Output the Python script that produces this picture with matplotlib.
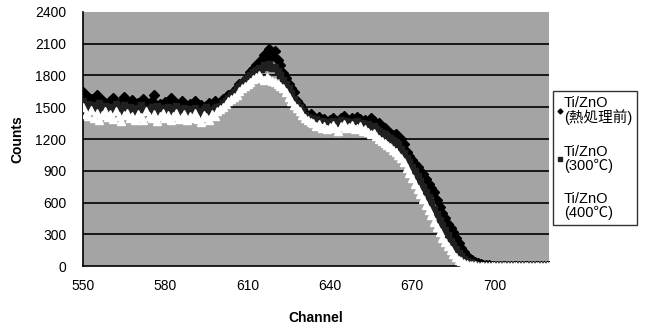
import numpy as np
import matplotlib
matplotlib.use("Agg")
import matplotlib.pyplot as plt

plt.rcParams['font.family'] = ['Liberation Sans', 'Noto Sans CJK JP', 'DejaVu Sans']

channels = list(range(550, 721))

before = [
    1640, 1560, 1600, 1580, 1530, 1620, 1510, 1570, 1540, 1500,
    1560, 1590, 1520, 1480, 1550, 1600, 1530, 1490, 1570, 1510,
    1540, 1500, 1580, 1520, 1470, 1560, 1620, 1500, 1530, 1480,
    1550, 1510, 1590, 1470, 1540, 1500, 1560, 1520, 1480, 1530,
    1500, 1560, 1490, 1520, 1470, 1510, 1540, 1480, 1560, 1520,
    1540, 1580, 1560, 1620, 1600, 1650, 1680, 1720, 1700, 1760,
    1790, 1830, 1860, 1900, 1880, 1950, 1990, 1960, 2050, 1990,
    2030, 1950, 1900, 1820, 1780, 1720, 1680, 1640, 1560, 1520,
    1480, 1450, 1420, 1440, 1400, 1380, 1410, 1360, 1390, 1350,
    1380, 1400, 1350, 1370, 1400, 1420, 1380, 1360, 1400, 1380,
    1410, 1390, 1360, 1380, 1350, 1400, 1370, 1330, 1350, 1310,
    1300, 1280, 1260, 1240, 1250, 1220, 1200, 1150, 1080, 1040,
    1000, 960, 940, 900, 870, 820, 780, 740, 700, 620,
    560, 500, 450, 400, 360, 320, 270, 220, 170, 130,
    95, 70, 55, 40, 30, 22, 15, 10, 7, 5,
    4, 3, 2, 2, 1, 1, 1, 0, 0, 0,
    0, 0, 0, 0, 0, 0, 0, 0, 0, 0, 0,
]

c300 = [
    1560, 1500, 1530, 1470, 1520, 1490, 1540, 1460, 1510, 1480,
    1500, 1470, 1530, 1450, 1490, 1520, 1460, 1500, 1480, 1440,
    1490, 1520, 1460, 1480, 1440, 1500, 1470, 1510, 1450, 1490,
    1460, 1500, 1440, 1480, 1510, 1450, 1470, 1490, 1440, 1480,
    1450, 1490, 1460, 1430, 1480, 1500, 1460, 1470, 1490, 1500,
    1510, 1540, 1560, 1590, 1620, 1640, 1670, 1700, 1730, 1760,
    1780, 1800, 1830, 1850, 1870, 1860, 1900, 1880, 1910, 1870,
    1880, 1840, 1800, 1760, 1720, 1680, 1630, 1580, 1540, 1500,
    1460, 1430, 1410, 1400, 1380, 1390, 1360, 1370, 1340, 1360,
    1350, 1370, 1340, 1360, 1380, 1350, 1370, 1340, 1360, 1350,
    1370, 1340, 1350, 1320, 1340, 1310, 1320, 1290, 1280, 1260,
    1250, 1230, 1210, 1190, 1170, 1150, 1110, 1070, 1020, 980,
    940, 900, 850, 800, 750, 700, 650, 600, 540, 490,
    440, 390, 340, 290, 240, 200, 160, 125, 95, 70,
    50, 38, 28, 20, 14, 10, 7, 5, 4, 3,
    2, 2, 1, 1, 1, 0, 0, 0, 0, 0,
    0, 0, 0, 0, 0, 0, 0, 0, 0, 0, 0,
]

c400 = [
    1500, 1440, 1420, 1470, 1400, 1450, 1380, 1430, 1460, 1410,
    1440, 1390, 1460, 1420, 1370, 1430, 1450, 1400, 1420, 1380,
    1440, 1410, 1380, 1460, 1420, 1400, 1440, 1370, 1420, 1450,
    1400, 1430, 1380, 1420, 1450, 1390, 1410, 1440, 1380, 1420,
    1400, 1450, 1390, 1360, 1430, 1410, 1380, 1440, 1420, 1460,
    1480, 1500, 1530, 1560, 1580, 1600, 1620, 1650, 1680, 1700,
    1720, 1740, 1770, 1790, 1800, 1780, 1760, 1790, 1770, 1750,
    1740, 1720, 1700, 1680, 1640, 1600, 1560, 1520, 1490, 1460,
    1430, 1400, 1380, 1360, 1350, 1320, 1340, 1300, 1320, 1290,
    1310, 1330, 1300, 1280, 1320, 1340, 1300, 1310, 1330, 1290,
    1300, 1320, 1280, 1290, 1270, 1250, 1260, 1230, 1200, 1180,
    1160, 1140, 1120, 1100, 1080, 1050, 1020, 980, 930, 880,
    830, 780, 730, 680, 630, 580, 530, 480, 420, 370,
    320, 270, 230, 190, 150, 115, 85, 62, 45, 32,
    22, 15, 10, 7, 5, 4, 3, 2, 2, 1,
    0, 0, 0, 0, 0, 0, 0, 0, 0, 0,
    0, 0, 0, 0, 0, 0, 0, 0, 0, 0, 0,
]

labels = ['Ti/ZnO\n(熱処理前)', 'Ti/ZnO\n(300℃)', 'Ti/ZnO\n(400℃)']
xticks = [550, 580, 610, 640, 670, 700]
yticks = [0, 300, 600, 900, 1200, 1500, 1800, 2100, 2400]

fig = plt.figure(figsize=(6.69, 3.31), dpi=100)
ax = fig.add_axes([0.124, 0.196, 0.697, 0.768])
ax.set_facecolor('#a4a4a4')

ax.plot(channels, before, linestyle='none', marker='D', markersize=5,
        color='black', markeredgecolor='black', label=labels[0], zorder=3)
ax.plot(channels, c300, linestyle='none', marker='s', markersize=4.5,
        color='#202020', markeredgecolor='#202020', label=labels[1], zorder=4)
ax.plot(channels, c400, linestyle='none', marker='^', markersize=5.5,
        color='white', markeredgecolor='white', label=labels[2], zorder=5)

ax.set_xlim(550, 720)
ax.set_ylim(0, 2400)
ax.set_xticks(xticks)
ax.set_yticks(yticks)
ax.tick_params(length=0, labelsize=10)
ax.tick_params(axis='x', pad=9)
ax.tick_params(axis='y', pad=12)
for y in yticks[1:-1]:
    ax.axhline(y, color='black', linewidth=1.2, zorder=1)
for s in ['top', 'right']:
    ax.spines[s].set_visible(False)
ax.spines['left'].set_linewidth(1.2)
ax.spines['bottom'].set_linewidth(1.2)

ax.set_xlabel('Channel', fontsize=10, fontweight='bold', labelpad=13)
ax.set_ylabel('Counts', fontsize=10, fontweight='bold', labelpad=8)

h, l = ax.get_legend_handles_labels()
leg = fig.legend(h, l,
                 loc='upper left', bbox_to_anchor=(553 / 669, 1 - 91 / 331),
                 borderaxespad=0.0,
                 fontsize=10.5, frameon=True, fancybox=False, edgecolor='black',
                 handlelength=0.25, handletextpad=0.15, borderpad=0.35,
                 labelspacing=1.35, markerscale=0.5)
leg.get_frame().set_linewidth(1.0)
for t in leg.get_texts():
    t.set_linespacing(0.95)

fig.savefig('out.png', dpi=100)
